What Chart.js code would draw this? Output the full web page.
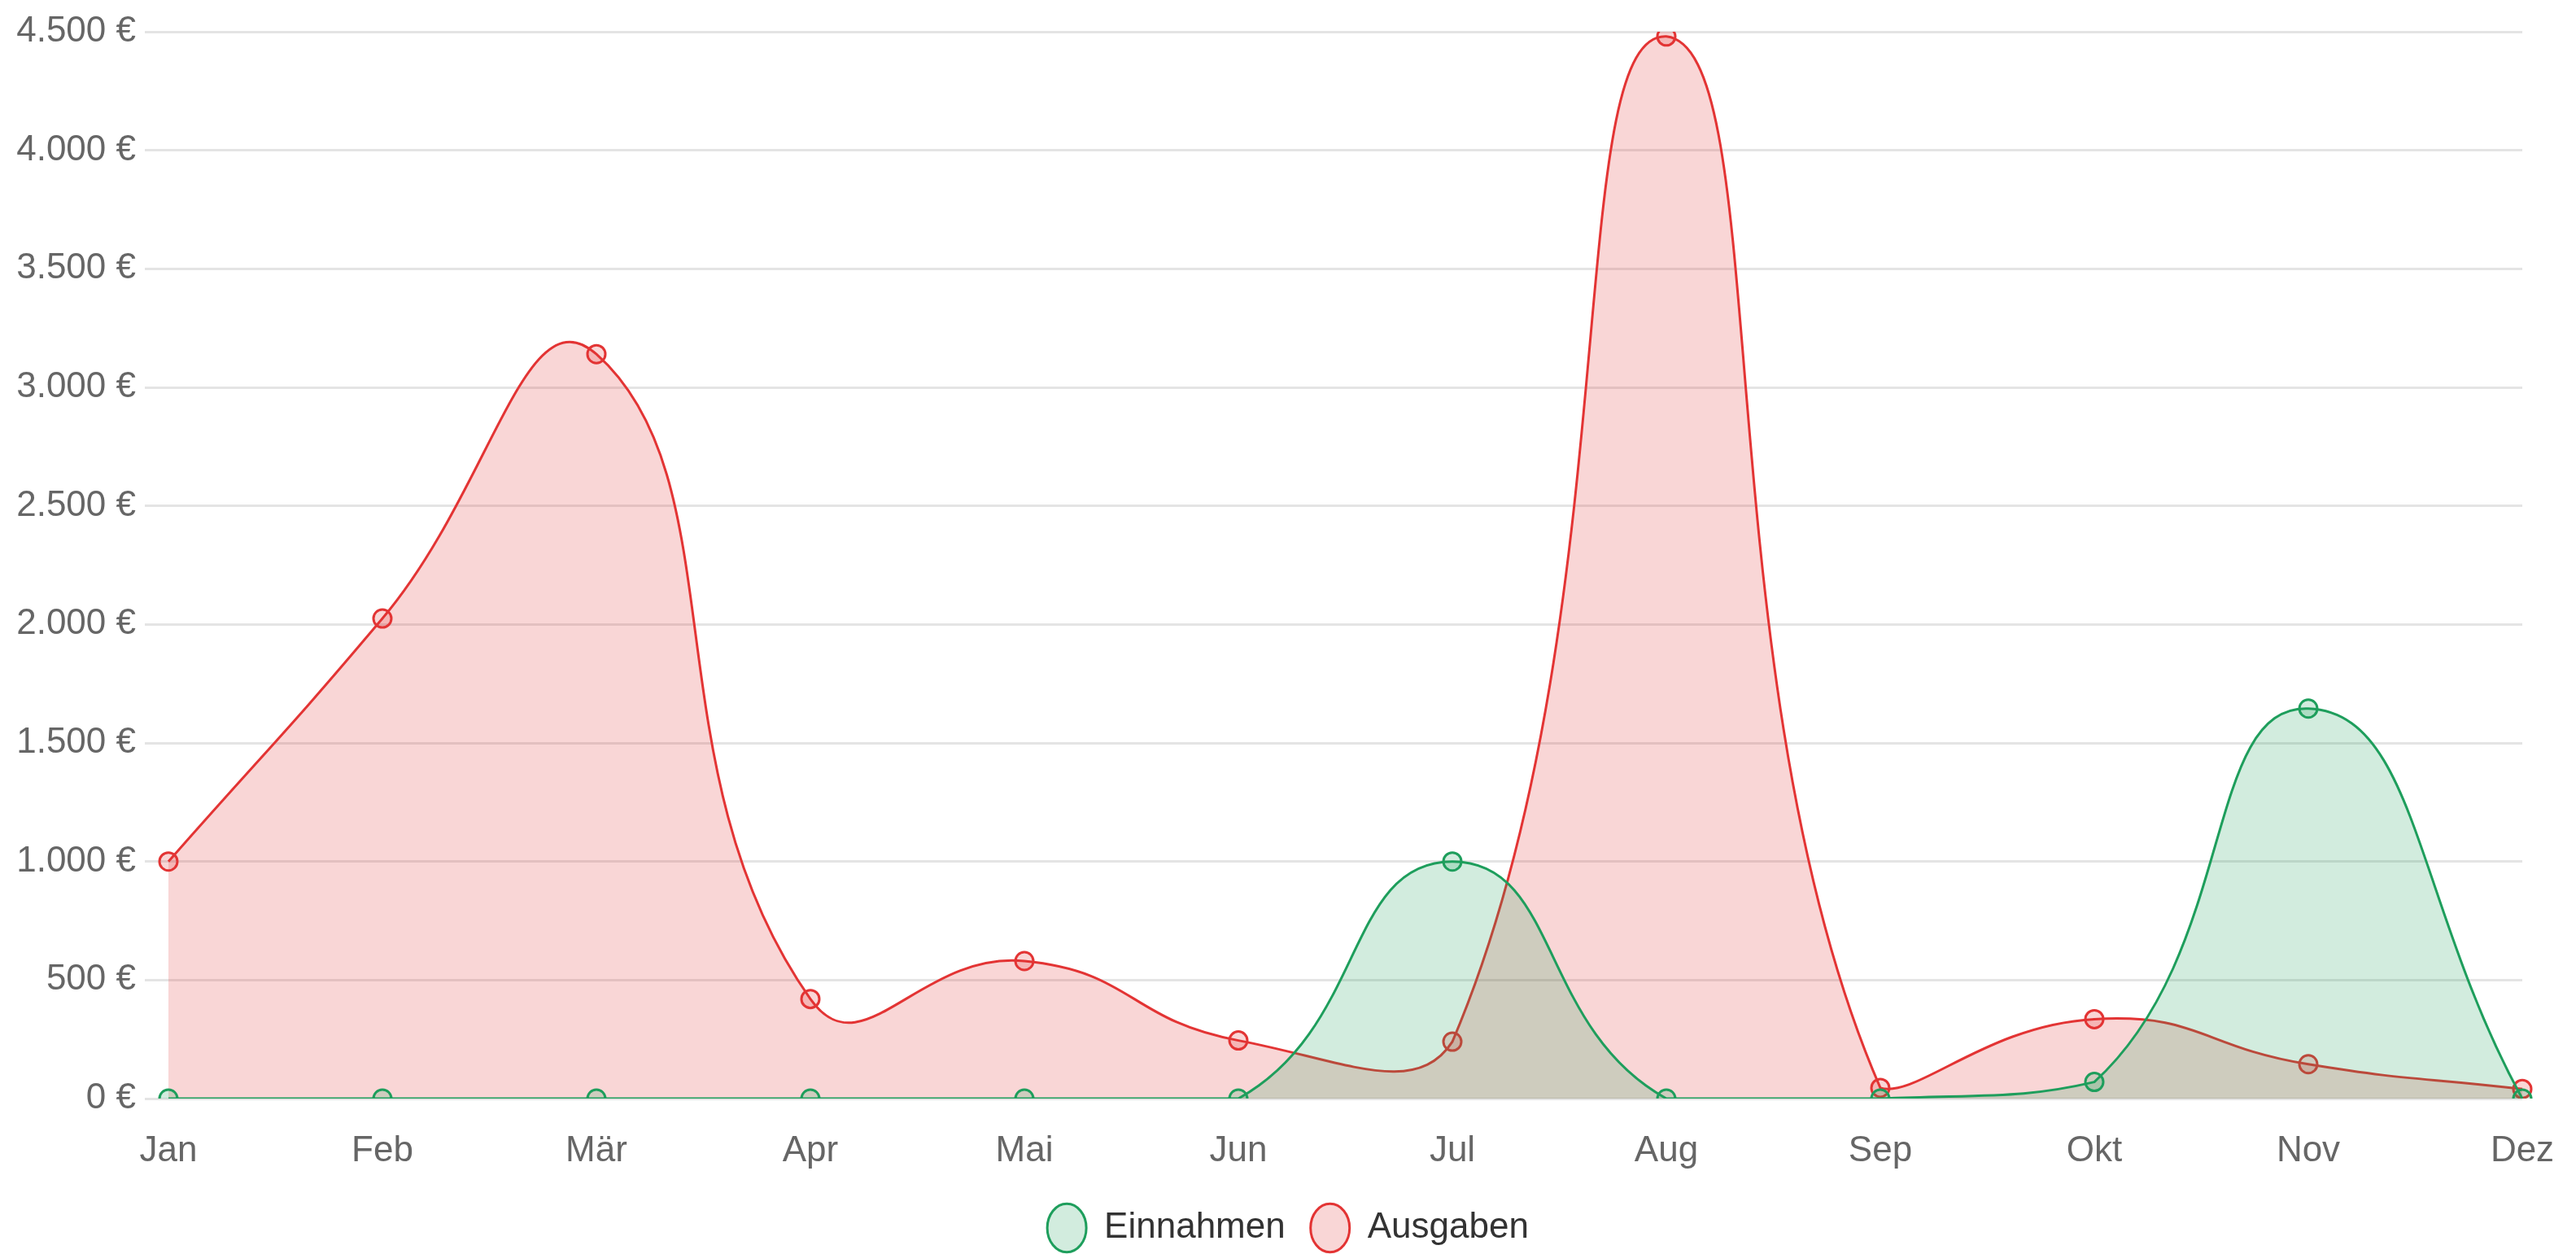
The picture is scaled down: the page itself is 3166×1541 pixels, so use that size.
<!DOCTYPE html>
<html>
<head>
<meta charset="utf-8">
<script src="https://cdn.jsdelivr.net/npm/chart.js@4.4.0/dist/chart.umd.min.js"></script>
<style>
    html, body { margin: 0; padding: 0; background: #fff; }
    #wrap { width: 3166px; height: 1541px; position: relative; }
</style>
</head>
<body>
<div id="wrap"><canvas id="financeChart"></canvas></div>
<script>
var months = ["Jan", "Feb", "Mär", "Apr", "Mai", "Jun", "Jul", "Aug", "Sep", "Okt", "Nov", "Dez"];
var einnahmen = [0, 0, 0, 0, 0, 0, 1000, 0, 0, 70, 1645, 0];
var ausgaben = [1000, 2025, 3140, 420, 580, 245, 240, 4480, 45, 335, 145, 40];
var yTicks = [0, 500, 1000, 1500, 2000, 2500, 3000, 3500, 4000, 4500];

var green = "rgb(30, 158, 92)";
var greenFill = "rgba(30, 158, 92, 0.2)";
var red = "rgb(227, 52, 52)";
var redFill = "rgba(227, 52, 52, 0.2)";
var fontFamily = "'Liberation Sans', Arial, Helvetica, sans-serif";

// 4500 -> "4.500 €"
function euro(value) {
    return String(value).replace(/\B(?=(\d{3})+(?!\d))/g, ".") + " €";
}

new Chart(document.getElementById("financeChart"), {
    type: "line",
    data: {
        labels: months,
        datasets: [{
            label: "Einnahmen",
            data: einnahmen,
            fill: "origin",
            borderColor: green,
            backgroundColor: greenFill,
            pointBorderColor: green,
            pointBackgroundColor: greenFill,
            borderWidth: 3,
            pointRadius: 11,
            pointBorderWidth: 3,
            tension: 0.5
        }, {
            label: "Ausgaben",
            data: ausgaben,
            fill: "origin",
            borderColor: red,
            backgroundColor: redFill,
            pointBorderColor: red,
            pointBackgroundColor: redFill,
            borderWidth: 3,
            pointRadius: 11,
            pointBorderWidth: 3,
            tension: 0.5
        }]
    },
    options: {
        responsive: true,
        maintainAspectRatio: false,
        animation: false,
        layout: {
            padding: { top: 39, left: 0, right: 0, bottom: 0 }
        },
        plugins: {
            filler: { drawTime: "beforeDatasetDraw" },
            tooltip: { enabled: false },
            legend: {
                position: "bottom",
                labels: {
                    usePointStyle: true,
                    pointStyleWidth: 48,
                    boxHeight: 42,
                    padding: 31,
                    color: "#333",
                    font: { size: 44, family: fontFamily }
                }
            }
        },
        scales: {
            x: {
                grid: { display: false, drawTicks: false },
                border: { display: false },
                ticks: {
                    padding: 38,
                    color: "#666",
                    maxRotation: 0,
                    autoSkip: false,
                    font: { size: 44, family: fontFamily }
                },
                afterFit: function (scale) {
                    scale.height = 106;
                    scale.paddingRight = 66;
                }
            },
            y: {
                min: yTicks[0],
                max: yTicks[yTicks.length - 1],
                grid: { color: "#e4e4e4", lineWidth: 3, tickLength: 29 },
                border: { display: false },
                ticks: {
                    stepSize: yTicks[1] - yTicks[0],
                    padding: 11,
                    color: "#666",
                    font: { size: 44, family: fontFamily },
                    callback: euro
                },
                afterFit: function (scale) {
                    scale.width = 207;
                }
            }
        }
    }
});
</script>
</body>
</html>
